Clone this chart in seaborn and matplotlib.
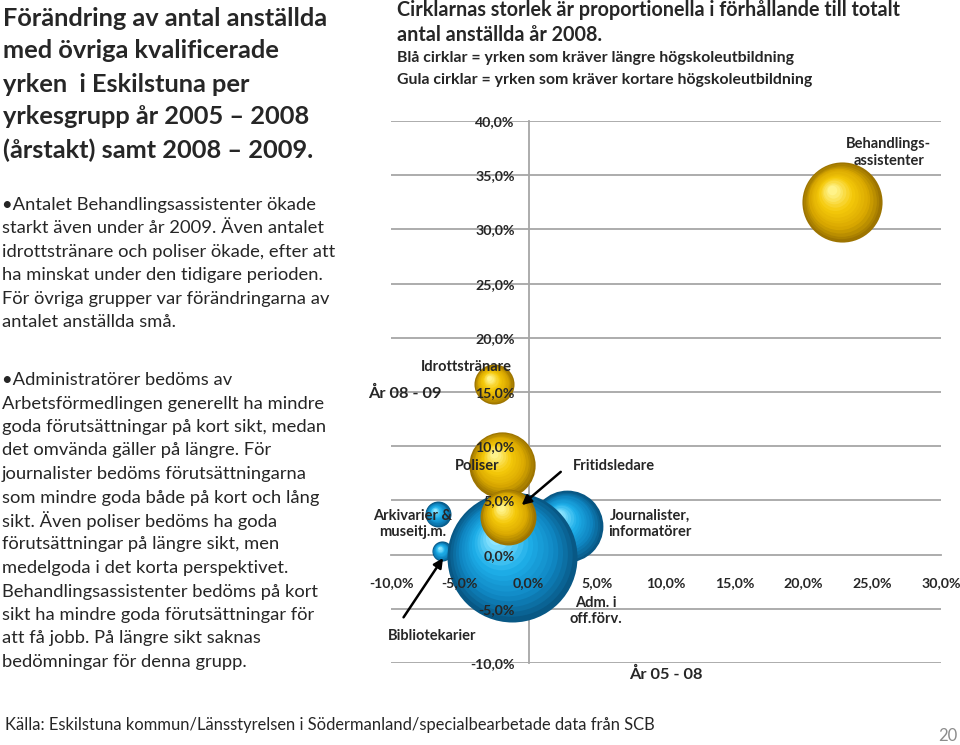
import numpy as np
import pandas as pd
import matplotlib.pyplot as plt
from matplotlib.colors import LinearSegmentedColormap
from matplotlib.transforms import ScaledTranslation
import seaborn as sns

# Data: change in employees per occupation group (list order = drawing order)
yrken = ["Journalister, informatörer", "Bibliotekarier", "Arkivarier & museitj.m.",
         "Adm. i off.förv.", "Behandlingsassistenter", "Poliser", "Fritidsledare",
         "Idrottstränare"]
utbildning = ["Längre", "Längre", "Längre", "Längre",
              "Kortare", "Kortare", "Kortare", "Kortare"]
ar_05_08 = [2.8, -6.3, -6.6, -1.2, 22.8, -1.9, -1.5, -2.5]   # % per year 2005-2008
ar_08_09 = [2.6, 0.3, 3.7, -0.2, 32.5, 8.3, 3.5, 15.7]       # % 2008-2009
antal_2008 = [305, 24, 40, 1000, 380, 260, 185, 95]           # bubble size

x_ticks = [-10, -5, 0, 5, 10, 15, 20, 25, 30]
y_ticks = [-10, -5, 0, 5, 10, 15, 20, 25, 30, 35, 40]

df = pd.DataFrame({"yrke": yrken, "utb": utbildning, "x": ar_05_08,
                   "y": ar_08_09, "antal": antal_2008})

sns.set_theme(style="white")
plt.rcParams["font.family"] = ["Lato", "DejaVu Sans"]

fig = plt.figure(figsize=(9.6, 7.45), dpi=100)
ax = fig.add_axes([391 / 960, 1 - 663 / 745, 550 / 960, 542 / 745])

cmaps = {
    "Längre": LinearSegmentedColormap.from_list(
        "b", ["#064a72", "#0f86c2", "#1fb0ea", "#8fe6ff"]),
    "Kortare": LinearSegmentedColormap.from_list(
        "g", ["#8a6400", "#d9a800", "#f5c90a", "#fff38a"]),
}
smax = 8760
nmax = max(antal_2008)
layers = np.linspace(1.0, 0.12, 16)

# one bubble at a time, shaded with stacked circles
for i in df.index:
    row = df.loc[[i]]
    r_pt = np.sqrt(smax * row.antal.iloc[0] / nmax) / 2
    for f in layers:
        t = 1 - f
        col = cmaps[row.utb.iloc[0]](min(1.0, 0.08 + t * 1.05))
        sns.scatterplot(data=row, x="x", y="y", size="antal",
                        sizes=(0, smax * f ** 2), size_norm=(0, nmax),
                        color=col, linewidth=0, legend=False, ax=ax, zorder=3)
        shift = t * r_pt * 0.35 / 72
        coll = ax.collections[-1]
        coll.set_offset_transform(ax.transData + ScaledTranslation(
            -shift * 0.8, shift, fig.dpi_scale_trans))

ax.set_xlim(-10, 30)
ax.set_ylim(-10, 40)
ax.set_xlabel("")
ax.set_ylabel("")

for v in y_ticks:
    if v != 0:
        ax.axhline(v, color="#a6a6a6", lw=1.3, zorder=1)
ax.spines["left"].set_position(("data", 0))
ax.spines["bottom"].set_position(("data", 0))
for s in ["top", "right"]:
    ax.spines[s].set_visible(False)
for s in ["left", "bottom"]:
    ax.spines[s].set_color("#a6a6a6")
    ax.spines[s].set_linewidth(1.3)
    ax.spines[s].set_zorder(1)
ax.tick_params(axis="x", length=4, color="#a6a6a6", pad=12, direction="out")
ax.tick_params(axis="y", length=0, pad=10)
ax.set_xticks(x_ticks)
ax.set_yticks(y_ticks)
ax.set_xticklabels([f"{v:.1f}%".replace(".", ",") for v in x_ticks],
                   fontweight="bold", fontsize=10.2)
ax.set_yticklabels([f"{v:.1f}%".replace(".", ",") for v in y_ticks],
                   fontweight="bold", fontsize=10.2)
# tick labels on top of the bubbles, axis lines below
ax.xaxis.set_zorder(8)
ax.yaxis.set_zorder(8)

lab = dict(fontsize=10.5, fontweight="bold", ha="center", va="center", zorder=10)
ax.text(26.2, 37.1, "Behandlings-\nassistenter", **lab)
ax.text(-4.5, 17.3, "Idrottstränare", **lab)
ax.text(-3.7, 8.2, "Poliser", **lab)
ax.text(6.2, 8.2, "Fritidsledare", **lab)
ax.text(-8.4, 2.8, "Arkivarier &\nmuseitj.m.", **lab)
ax.text(8.8, 2.8, "Journalister,\ninformatörer", **lab)
ax.text(4.9, -5.2, "Adm. i\noff.förv.", **lab)
ax.text(-7.0, -7.5, "Bibliotekarier", **lab)
arrow = dict(arrowstyle="-|>", color="black", lw=1.8, mutation_scale=14)
ax.annotate("", xy=(-0.65, 4.4), xytext=(2.5, 7.8), arrowprops=arrow, zorder=11)
ax.annotate("", xy=(-6.1, -0.1), xytext=(-9.2, -6.0), arrowprops=arrow, zorder=11)
ax.text(-9.0, 14.9, "År 08 - 09", fontsize=11.8, fontweight="bold",
        ha="center", va="center", clip_on=False)
ax.text(10.0, -11.1, "År 05 - 08", fontsize=11.8, fontweight="bold",
        ha="center", va="center", clip_on=False)

# slide texts
title = ["Förändring av antal anställda", "med övriga kvalificerade",
         "yrken  i Eskilstuna per", "yrkesgrupp år 2005 – 2008",
         "(årstakt) samt 2008 – 2009."]
for k, line in enumerate(title):
    fig.text(3 / 960, 1 - (18 + 33 * k) / 745, line, fontsize=18.3,
             fontweight="bold", va="center")

b1 = ["•Antalet Behandlingsassistenter ökade", "starkt även under år 2009. Även antalet",
      "idrottstränare och poliser ökade, efter att", "ha minskat under den tidigare perioden.",
      "För övriga grupper var förändringarna av", "antalet anställda små."]
for k, line in enumerate(b1):
    fig.text(2 / 960, 1 - (205 + 23.4 * k) / 745, line, fontsize=13.2, va="center")

b2 = ["•Administratörer bedöms av", "Arbetsförmedlingen generellt ha mindre",
      "goda förutsättningar på kort sikt, medan", "det omvända gäller på längre. För",
      "journalister bedöms förutsättningarna", "som mindre goda både på kort och lång",
      "sikt. Även poliser bedöms ha goda", "förutsättningar på längre sikt, men",
      "medelgoda i det korta perspektivet.", "Behandlingsassistenter bedöms på kort",
      "sikt ha mindre goda förutsättningar för", "att få jobb. På längre sikt saknas",
      "bedömningar för denna grupp."]
for k, line in enumerate(b2):
    fig.text(2 / 960, 1 - (380 + 23.5 * k) / 745, line, fontsize=13.2, va="center")

head = ["Cirklarnas storlek är proportionella i förhållande till totalt",
        "antal anställda år 2008."]
for k, line in enumerate(head):
    fig.text(397 / 960, 1 - (10 + 25 * k) / 745, line, fontsize=14.2,
             fontweight="bold", va="center")
sub = ["Blå cirklar = yrken som kräver längre högskoleutbildning",
       "Gula cirklar = yrken som kräver kortare högskoleutbildning"]
for k, line in enumerate(sub):
    fig.text(397 / 960, 1 - (58 + 22 * k) / 745, line, fontsize=11.4,
             fontweight="bold", va="center")

fig.text(5 / 960, 1 - 725 / 745,
         "Källa: Eskilstuna kommun/Länsstyrelsen i Södermanland/specialbearbetade data från SCB",
         fontsize=11.9, va="center")
fig.text(957 / 960, 1 - 736 / 745, "20", fontsize=12, color="#8c8c8c",
         ha="right", va="center")

fig.savefig("out.png", dpi=100)
